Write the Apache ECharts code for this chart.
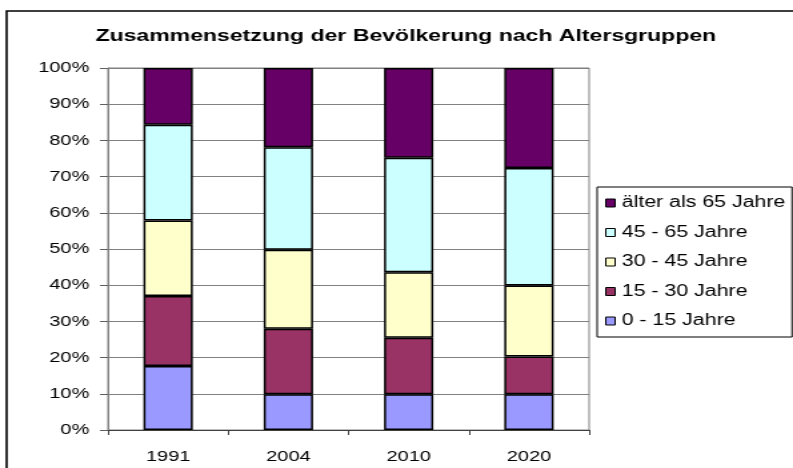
<!DOCTYPE html>
<html>
<head>
<meta charset="utf-8">
<script src="https://cdn.jsdelivr.net/npm/echarts@6/dist/echarts.min.js"></script>
<style>
  html, body { margin: 0; padding: 0; background: #fff; overflow: hidden; }
  /* the reference picture is stretched sideways, so the chart is drawn narrower and scaled */
  #chart { width: 595px; height: 468px; transform: scaleX(1.3328); transform-origin: 0 0; }
</style>
</head>
<body>
<div id="chart"></div>
<script>
const categories = ["1991", "2004", "2010", "2020"];
const seriesNames = ["0 - 15 Jahre", "15 - 30 Jahre", "30 - 45 Jahre", "45 - 65 Jahre", "älter als 65 Jahre"];
const age0to15 = [17.7, 9.9, 9.9, 9.9];
const age15to30 = [19.3, 18.1, 15.6, 10.4];
const age30to45 = [20.9, 21.8, 18.1, 19.6];
const age45to65 = [26.4, 28.3, 31.6, 32.5];
const age65plus = [15.7, 21.9, 24.8, 27.6];
const colors = ["#9999ff", "#993366", "#ffffcc", "#ccffff", "#660066"];

const values = [age0to15, age15to30, age30to45, age45to65, age65plus];
const font = "Liberation Sans, Arial, sans-serif";

const chart = echarts.init(document.getElementById("chart"), null, { renderer: "canvas" });
chart.setOption({
  animation: false,
  backgroundColor: "#fff",
  textStyle: { fontFamily: font, color: "#000" },
  graphic: [
    {
      type: "rect",
      shape: { x: 5, y: 11, width: 1000, height: 1000 },
      style: { fill: null, stroke: "#000", lineWidth: 1.6 },
      silent: true
    },
    {
      type: "text",
      x: 304.5,
      y: 36,
      style: {
        text: "Zusammensetzung der Bevölkerung nach Altersgruppen",
        font: "bold 17.3px " + font,
        fill: "#000",
        textAlign: "center",
        textVerticalAlign: "middle"
      }
    }
  ],
  grid: {
    left: 81,
    right: 153,
    top: 68,
    bottom: 38,
    show: true,
    borderColor: "#808080",
    borderWidth: 1
  },
  legend: {
    orient: "vertical",
    left: 448,
    top: 187,
    data: seriesNames.slice().reverse(),
    icon: "rect",
    itemWidth: 7,
    itemHeight: 8,
    itemGap: 13.5,
    padding: [8, 5, 8, 6],
    borderColor: "#000",
    borderWidth: 1,
    itemStyle: { borderColor: "#000", borderWidth: 1 },
    textStyle: { fontFamily: font, fontSize: 16, color: "#000" }
  },
  xAxis: {
    type: "category",
    data: categories,
    axisLine: { lineStyle: { color: "#404040", width: 1 } },
    axisTick: { show: true, length: 5, lineStyle: { color: "#404040" } },
    axisLabel: { fontFamily: font, fontSize: 15, color: "#000", margin: 19 },
    splitLine: { show: false }
  },
  yAxis: {
    type: "value",
    min: 0,
    max: 100,
    interval: 10,
    axisLine: { show: true, lineStyle: { color: "#808080", width: 1 } },
    axisTick: { show: true, length: 6, lineStyle: { color: "#606060" } },
    axisLabel: { fontFamily: font, fontSize: 15, color: "#000", margin: 14, formatter: "{value}%" },
    splitLine: { show: true, lineStyle: { color: "#808080", width: 1, type: "solid" } }
  },
  series: seriesNames.map(function (name, i) {
    return {
      name: name,
      type: "bar",
      stack: "total",
      barWidth: 37,
      data: values[i],
      itemStyle: { color: colors[i], borderColor: "#000", borderWidth: 1.5 }
    };
  })
});
</script>
</body>
</html>
